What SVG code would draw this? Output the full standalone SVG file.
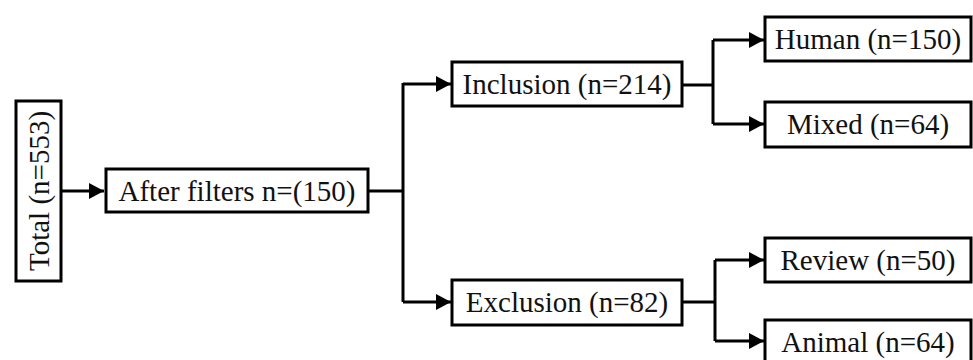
<svg xmlns="http://www.w3.org/2000/svg" width="973" height="360" viewBox="0 0 973 360">
  <style>
    .box { fill: #ffffff; stroke: #000000; stroke-width: 3; }
    .lbl { font-family: "Liberation Serif", "Times New Roman", serif; font-size: 29px; fill: #111111; text-anchor: middle; }
    .wire { fill: none; stroke: #000000; stroke-width: 3; }
  </style>
  <defs>
    <marker id="arrow" markerUnits="userSpaceOnUse" markerWidth="16" markerHeight="17" refX="15" refY="8" orient="auto">
      <path d="M0,0 L15,8 L0,16 Z" fill="#000000"/>
    </marker>
  </defs>
  <rect width="973" height="360" fill="#ffffff"/>

  <!-- connectors -->
  <g id="connectors">
    <path class="wire" d="M61,191 H104" marker-end="url(#arrow)"/>
    <path class="wire" d="M368,191 H403"/>
    <path class="wire" d="M403,83 V302"/>
    <path class="wire" d="M403,84 H451" marker-end="url(#arrow)"/>
    <path class="wire" d="M403,302 H451" marker-end="url(#arrow)"/>
    <path class="wire" d="M682,85 H713"/>
    <path class="wire" d="M713,40 V124"/>
    <path class="wire" d="M713,40 H764" marker-end="url(#arrow)"/>
    <path class="wire" d="M713,124 H764" marker-end="url(#arrow)"/>
    <path class="wire" d="M682,302 H715"/>
    <path class="wire" d="M715,260 V341"/>
    <path class="wire" d="M715,260 H764" marker-end="url(#arrow)"/>
    <path class="wire" d="M715,341 H764" marker-end="url(#arrow)"/>
  </g>

  <g id="total">
    <rect class="box" x="16" y="101" width="45" height="180"/>
    <text class="lbl" transform="translate(48.5,191) rotate(-90)" x="0" y="0">Total (n=553)</text>
  </g>
  <g id="after-filters">
    <rect class="box" x="106" y="169" width="262" height="43"/>
    <text class="lbl" x="237" y="201">After filters n=(150)</text>
  </g>
  <g id="inclusion">
    <rect class="box" x="452" y="62" width="230" height="44"/>
    <text class="lbl" x="567" y="94">Inclusion (n=214)</text>
  </g>
  <g id="exclusion">
    <rect class="box" x="452" y="280" width="230" height="45"/>
    <text class="lbl" x="567" y="312">Exclusion (n=82)</text>
  </g>
  <g id="human">
    <rect class="box" x="765" y="17" width="206" height="44"/>
    <text class="lbl" x="868" y="49">Human (n=150)</text>
  </g>
  <g id="mixed">
    <rect class="box" x="765" y="102" width="206" height="45"/>
    <text class="lbl" x="868" y="134">Mixed (n=64)</text>
  </g>
  <g id="review">
    <rect class="box" x="765" y="238" width="206" height="44"/>
    <text class="lbl" x="868" y="270">Review (n=50)</text>
  </g>
  <g id="animal">
    <rect class="box" x="765" y="320" width="206" height="46"/>
    <text class="lbl" x="868" y="352">Animal (n=64)</text>
  </g>
</svg>
